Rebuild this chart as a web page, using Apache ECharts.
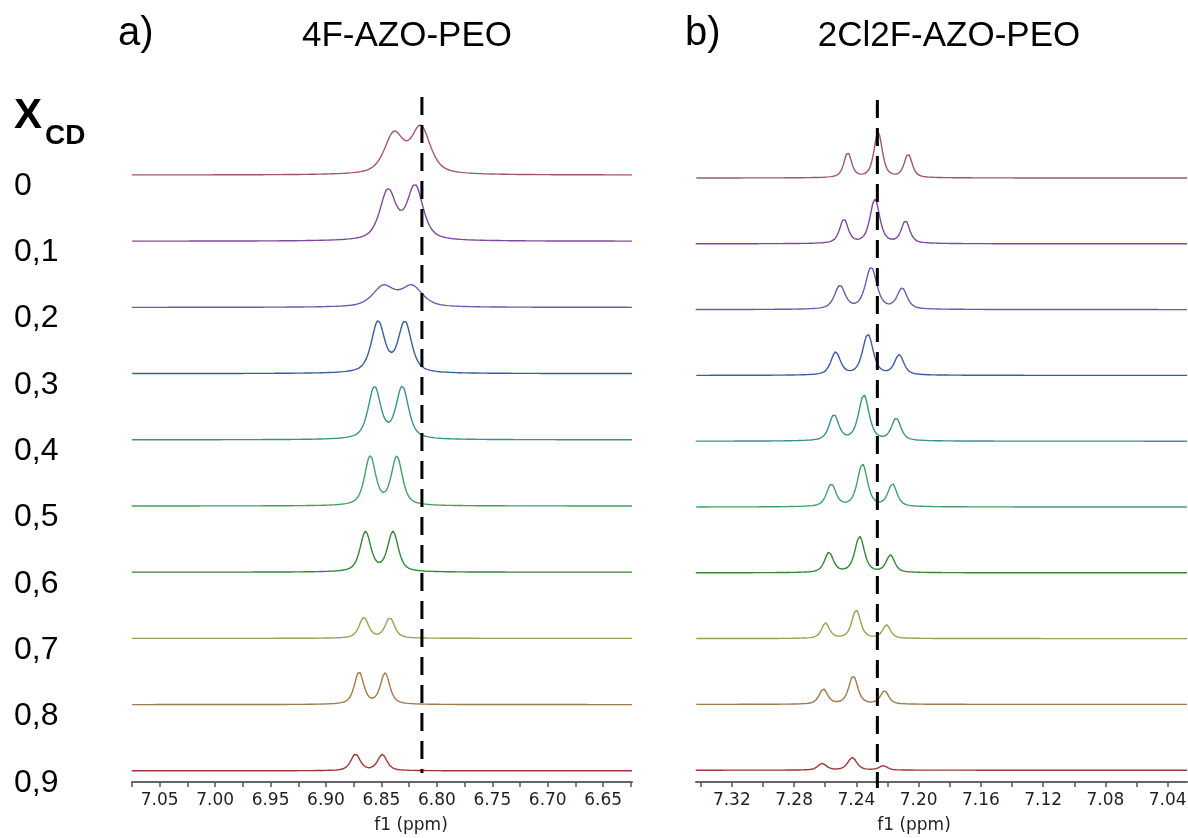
<!DOCTYPE html>
<html>
<head>
<meta charset="utf-8">
<script src="https://cdn.jsdelivr.net/npm/echarts@6/dist/echarts.min.js"></script>
<style>
html,body{margin:0;padding:0;background:#fff;}
#chart{width:1188px;height:838px;}
</style>
</head>
<body>
<div id="chart"></div>
<script>
// ---------- DATA ----------
const xcdLabels = ['0', '0,1', '0,2', '0,3', '0,4', '0,5', '0,6', '0,7', '0,8', '0,9'];
const panelTitles = ['4F-AZO-PEO', '2Cl2F-AZO-PEO'];
const panelLetters = ['a)', 'b)'];
const axisName = 'f1 (ppm)';

// panel a (4F-AZO-PEO): peak shifts (ppm), heights (a.u.), half widths (ppm)
const aShifts = [
  [6.8387, 6.8145], [6.8441, 6.8197], [6.8482, 6.8226], [6.8531, 6.8289], [6.8563, 6.8312],
  [6.8602, 6.8361], [6.8644, 6.8396], [6.8659, 6.8424], [6.8702, 6.8467], [6.8734, 6.8492]
];
const aHeights = [
  [39.5, 46.2], [49.2, 53.7], [20.4, 20.4], [50.6, 50.6], [51.6, 51.8],
  [48.7, 48.4], [39.8, 39.8], [20.7, 20.3], [32.0, 31.0], [16.5, 16.0]
];
const aWidths = [
  [0.0102, 0.0102], [0.0086, 0.0086], [0.0114, 0.0114], [0.0071, 0.0071], [0.0067, 0.0067],
  [0.0059, 0.0059], [0.0057, 0.0057], [0.0050, 0.0050], [0.0050, 0.0050], [0.0050, 0.0050]
];
// panel b (2Cl2F-AZO-PEO)
const bShifts = [
  [7.2455, 7.2260, 7.2067], [7.2480, 7.2281, 7.2084], [7.2506, 7.2305, 7.2106], [7.2533, 7.2326, 7.2125],
  [7.2544, 7.2352, 7.2144], [7.2561, 7.2361, 7.2168], [7.2576, 7.2379, 7.2181], [7.2598, 7.2401, 7.2206],
  [7.2612, 7.2420, 7.2219], [7.2619, 7.2426, 7.2227]
];
const bHeights = [
  [25.0, 45.0, 23.3], [24.0, 44.0, 22.3], [23.3, 41.7, 20.7], [22.7, 40.7, 20.0], [25.6, 45.6, 22.3],
  [22.3, 42.6, 22.3], [20.0, 36.0, 17.3], [15.3, 28.6, 13.3], [15.0, 28.3, 13.3], [6.7, 12.7, 4.3]
];
const bWidths = [
  [0.0029, 0.0032, 0.0030], [0.0032, 0.0037, 0.0032], [0.0040, 0.0043, 0.0037], [0.0036, 0.0040, 0.0035],
  [0.0036, 0.0040, 0.0035], [0.0035, 0.0038, 0.0034], [0.0033, 0.0036, 0.0032], [0.0030, 0.0033, 0.0030],
  [0.0032, 0.0034, 0.0031], [0.0032, 0.0034, 0.0031]
];
// reference shift markers (dashed lines)
const refShiftA = 6.8135;
const refShiftB = 7.2265;
// axis ranges and tick labels
const aRange = [6.624, 7.075];
const bRange = [7.0276, 7.343];
const aTickLabels = [6.65, 6.70, 6.75, 6.80, 6.85, 6.90, 6.95, 7.00, 7.05];
const aMinorTicks = [6.625, 6.65, 6.675, 6.70, 6.725, 6.75, 6.775, 6.80, 6.825, 6.85, 6.875, 6.90, 6.925, 6.95, 6.975, 7.00, 7.025, 7.05, 7.075];
const bTickLabels = [7.04, 7.08, 7.12, 7.16, 7.20, 7.24, 7.28, 7.32];
const bMinorTicks = [7.04, 7.06, 7.08, 7.10, 7.12, 7.14, 7.16, 7.18, 7.20, 7.22, 7.24, 7.26, 7.28, 7.30, 7.32, 7.34];

// ---------- STYLE / LAYOUT ----------
const colors = ['#a05577', '#84489a', '#6060ad', '#3d5c9e', '#3a9290', '#45a066', '#378537', '#95a552', '#a07a4c', '#a53535'];
const lorentzFraction = 0.6;
const plotTop = 90, plotBottom = 782;
const yMax = plotBottom - plotTop;
const stackA = {first: 607, gap: 66.2};
const stackB = {first: 604, gap: 65.8};

function spectrum(shifts, heights, widths, range, base) {
  const pts = [];
  const step = 0.0004;
  const n = Math.round((range[1] - range[0]) / step);
  for (let j = 0; j <= n; j++) {
    const x = range[0] + j * step;
    let y = 0;
    for (let k = 0; k < shifts.length; k++) {
      const d = (x - shifts[k]) / widths[k];
      y += heights[k] * (lorentzFraction / (1 + d * d) + (1 - lorentzFraction) * Math.exp(-Math.LN2 * d * d));
    }
    pts.push([x, base + y]);
  }
  return pts;
}

const series = [];
for (let i = 0; i < xcdLabels.length; i++) {
  series.push({
    type: 'line', xAxisIndex: 0, yAxisIndex: 0, showSymbol: false, silent: true,
    lineStyle: {color: colors[i], width: 1.4}, animation: false,
    data: spectrum(aShifts[i], aHeights[i], aWidths[i], aRange, stackA.first - i * stackA.gap)
  });
  series.push({
    type: 'line', xAxisIndex: 1, yAxisIndex: 1, showSymbol: false, silent: true,
    lineStyle: {color: colors[i], width: 1.4}, animation: false,
    data: spectrum(bShifts[i], bHeights[i], bWidths[i], bRange, stackB.first - i * stackB.gap)
  });
}
series.push({
  type: 'line', xAxisIndex: 0, yAxisIndex: 0, showSymbol: false, silent: true, clip: false, animation: false,
  lineStyle: {color: '#000', width: 3, type: [18, 10]},
  data: [[refShiftA, yMax - 7], [refShiftA, 9]]
});
series.push({
  type: 'line', xAxisIndex: 1, yAxisIndex: 1, showSymbol: false, silent: true, clip: false, animation: false,
  lineStyle: {color: '#000', width: 3, type: [18, 10]},
  data: [[refShiftB, yMax - 10], [refShiftB, -6]]
});

function xAxisCfg(gridIndex, range, labels, ticks) {
  return {
    type: 'value', gridIndex: gridIndex, inverse: true, min: range[0], max: range[1],
    splitLine: {show: false},
    axisLine: {show: true, onZero: false, lineStyle: {color: '#666', width: 2}},
    axisTick: {show: true, length: 5, inside: false, customValues: ticks, lineStyle: {color: '#555', width: 1.5}},
    axisLabel: {
      customValues: labels, margin: 10, color: '#1e1e2a', fontSize: 17, fontFamily: 'DejaVu Sans',
      formatter: v => v.toFixed(2), showMinLabel: true, showMaxLabel: true
    }
  };
}
function yAxisCfg(gridIndex) {
  return {type: 'value', gridIndex: gridIndex, min: 0, max: yMax, show: false};
}

const font = 'Liberation Sans, Arial, sans-serif';
const graphics = [
  {type: 'text', left: 118, top: 14, style: {text: panelLetters[0], font: '40px ' + font, fill: '#000'}},
  {type: 'text', left: 685, top: 14, style: {text: panelLetters[1], font: '40px ' + font, fill: '#000'}},
  {type: 'text', x: 407, y: 36, style: {text: panelTitles[0], font: '35px ' + font, fill: '#000', align: 'center', verticalAlign: 'middle'}},
  {type: 'text', x: 949, y: 36, style: {text: panelTitles[1], font: '35px ' + font, fill: '#000', align: 'center', verticalAlign: 'middle'}},
  {type: 'text', x: 14, y: 116, style: {text: 'X', font: 'bold 42px ' + font, fill: '#000', verticalAlign: 'middle'}},
  {type: 'text', x: 45, y: 136, style: {text: 'CD', font: 'bold 28px ' + font, fill: '#000', verticalAlign: 'middle'}},
  {type: 'text', x: 411, y: 826, style: {text: axisName, font: '17px DejaVu Sans', fill: '#1e1e2a', align: 'center', verticalAlign: 'middle'}},
  {type: 'text', x: 914, y: 826, style: {text: axisName, font: '17px DejaVu Sans', fill: '#1e1e2a', align: 'center', verticalAlign: 'middle'}}
];
for (let i = 0; i < xcdLabels.length; i++) {
  graphics.push({type: 'text', x: 14, y: 186 + i * 66.3,
    style: {text: xcdLabels[i], font: '32px ' + font, fill: '#000', verticalAlign: 'middle'}});
}

const chart = echarts.init(document.getElementById('chart'), null, {renderer: 'canvas'});
chart.setOption({
  backgroundColor: '#fff',
  animation: false,
  grid: [
    {left: 132, top: plotTop, width: 500, height: yMax, outerBoundsMode: 'none', containLabel: false},
    {left: 696, top: plotTop, width: 491, height: yMax, outerBoundsMode: 'none', containLabel: false}
  ],
  xAxis: [xAxisCfg(0, aRange, aTickLabels, aMinorTicks), xAxisCfg(1, bRange, bTickLabels, bMinorTicks)],
  yAxis: [yAxisCfg(0), yAxisCfg(1)],
  graphic: graphics,
  series: series
});
</script>
</body>
</html>
